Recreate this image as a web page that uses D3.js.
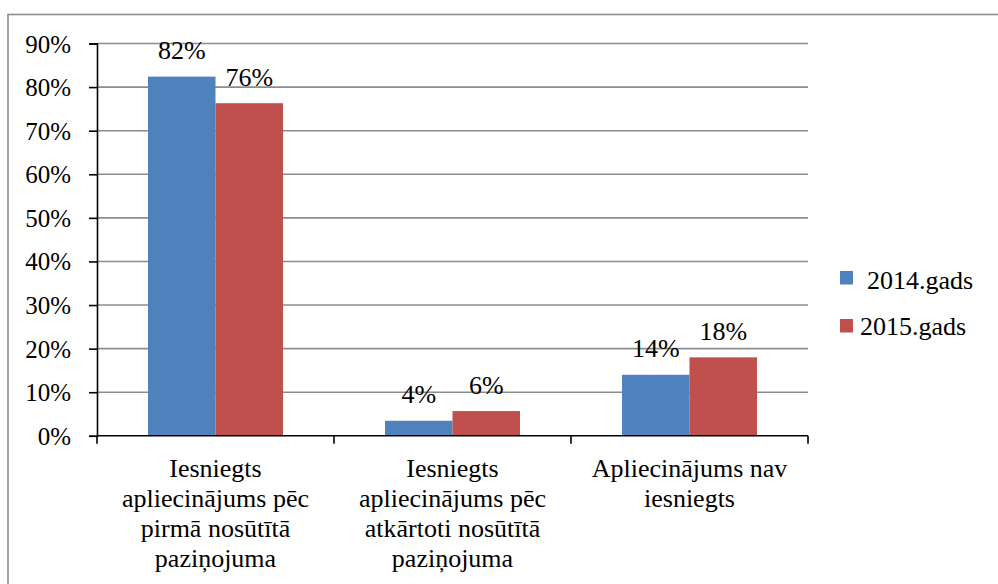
<!DOCTYPE html>
<html><head><meta charset="utf-8">
<script src="https://cdn.jsdelivr.net/npm/d3@7"></script>
</head><body style="margin:0;background:#fff">
<svg id="c" width="998" height="584" style="display:block"></svg>
<script>
const categories = [
  ["Iesniegts","apliecinājums pēc","pirmā nosūtītā","paziņojuma"],
  ["Iesniegts","apliecinājums pēc","atkārtoti nosūtītā","paziņojuma"],
  ["Apliecinājums nav","iesniegts"]
];
const seriesNames = ["2014.gads","2015.gads"];
const values2014 = [82.4, 3.45, 14.0];
const values2015 = [76.3, 5.67, 18.0];
const labels2014 = ["82%","4%","14%"];
const labels2015 = ["76%","6%","18%"];
const yTicks = [0,10,20,30,40,50,60,70,80,90];
const colors = ["#4F81BD","#C0504D"];
const FONT = "Liberation Serif";
const FS = 26;

const svg = d3.select("#c");
svg.append("rect").attr("x",8).attr("y",14.5).attr("width",1100).attr("height",700)
  .attr("fill","none").attr("stroke","#8c8c8c").attr("stroke-width",1.6);

const L=97, R=808, T=43.5, B=435.8;
const y = d3.scaleLinear().domain([0,90]).range([B,T]);
const x0 = d3.scaleBand().domain([0,1,2]).range([L,R]).paddingInner(0).paddingOuter(0);
const x1 = d3.scaleBand().domain([0,1]).range([51, x0.bandwidth()-51]);

svg.append("g").selectAll("line").data(yTicks.filter(d=>d>0)).join("line")
  .attr("x1",L).attr("x2",R).attr("y1",d=>y(d)).attr("y2",d=>y(d))
  .attr("stroke","#8c8c8c").attr("stroke-width",1.6);

const data = [values2014, values2015];
const labs = [labels2014, labels2015];
data.forEach((vals,si)=>{
  svg.append("g").selectAll("rect").data(vals).join("rect")
    .attr("x",(d,i)=>x0(i)+x1(si)).attr("width",x1.bandwidth())
    .attr("y",d=>y(d)).attr("height",d=>B-y(d)).attr("fill",colors[si]);
  svg.append("g").selectAll("text").data(vals).join("text")
    .attr("x",(d,i)=>x0(i)+x1(si)+x1.bandwidth()/2).attr("y",d=>y(d)-26)
    .attr("text-anchor","middle").attr("dominant-baseline","central")
    .attr("font-family",FONT).attr("font-size",FS).attr("fill","#000")
    .text((d,i)=>labs[si][i]);
});

const yAxis = d3.axisLeft(y).tickValues(yTicks).tickSize(8).tickFormat(d=>d+"%");
const ga = svg.append("g").attr("transform",`translate(${L},0)`).call(yAxis)
  .attr("font-family",FONT).attr("font-size",25);
ga.select(".domain").attr("stroke","#000").attr("stroke-width",1.6);
ga.selectAll(".tick line").attr("stroke","#000").attr("stroke-width",1.6);
ga.selectAll(".tick text").attr("x",-26).attr("dy",null).attr("dominant-baseline","central")
  .attr("font-family",FONT).attr("font-size",25).attr("fill","#000");

const gx = svg.append("g").attr("transform",`translate(0,${B})`);
gx.append("line").attr("x1",L).attr("x2",R).attr("stroke","#000").attr("stroke-width",1.6);
gx.selectAll("line.t").data([0,1,2,3]).join("line").attr("class","t")
  .attr("x1",d=>L+d*x0.bandwidth()).attr("x2",d=>L+d*x0.bandwidth()).attr("y1",0).attr("y2",8)
  .attr("stroke","#000").attr("stroke-width",1.6);
categories.forEach((lines,i)=>{
  const t = svg.append("text").attr("text-anchor","middle")
    .attr("font-family",FONT).attr("font-size",FS).attr("fill","#000");
  lines.forEach((ln,j)=>{
    t.append("tspan").attr("x",x0(i)+x0.bandwidth()/2).attr("y",468+j*30)
     .attr("dominant-baseline","central").text(ln);
  });
});

const lg = svg.append("g");
seriesNames.forEach((n,i)=>{
  const yy = 271 + i*48;
  lg.append("rect").attr("x",840).attr("y",yy).attr("width",13).attr("height",13.5).attr("fill",colors[i]);
  lg.append("text").attr("x",i===0?867:860).attr("y",i===0?280:326).attr("dominant-baseline","central")
    .attr("font-family",FONT).attr("font-size",FS).attr("fill","#000").text(n);
});
</script></body></html>
